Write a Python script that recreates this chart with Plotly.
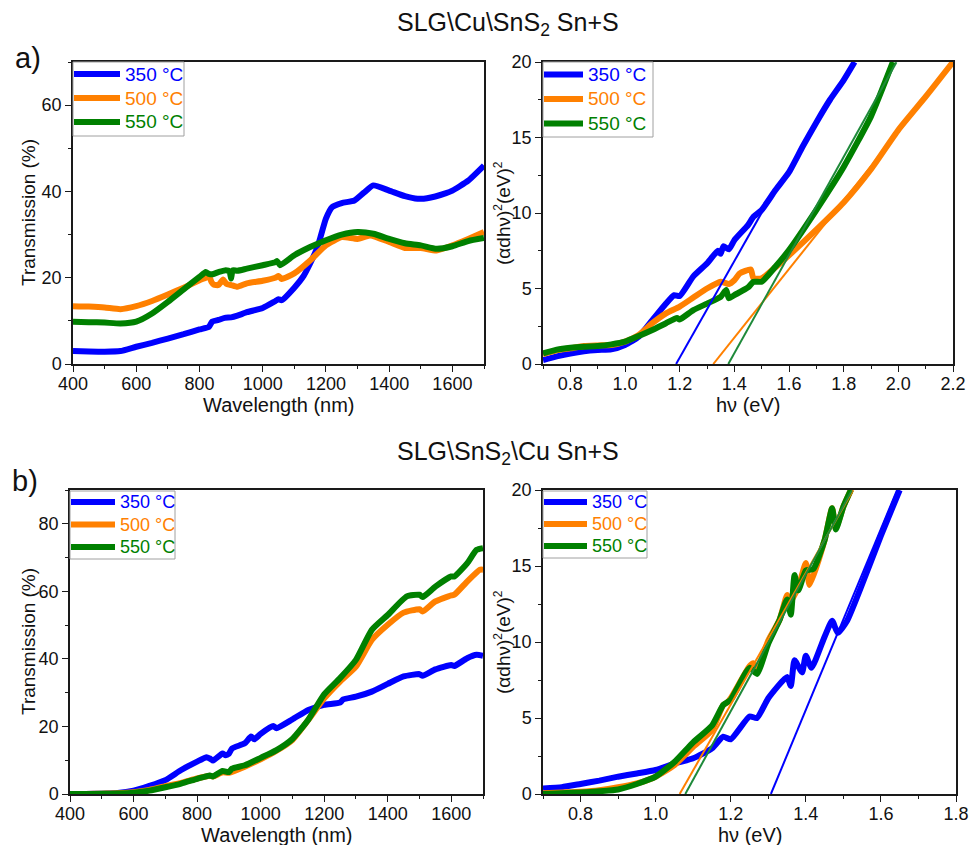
import plotly.graph_objects as go

# ---------------- data ----------------
# a) SLG\Cu\SnS2 : transmission spectra
wl_a_350 = [400, 450, 500, 550, 600, 650, 700, 750, 800, 830, 840, 860, 880, 900, 920, 950, 1000, 1040, 1050, 1060,
            1100, 1130, 1150, 1170, 1180, 1200, 1220, 1250, 1290, 1320, 1350, 1400, 1450, 1490, 1520, 1580, 1600, 1650, 1700]
T_a_350 = [3.0, 2.9, 2.85, 3.0, 4.0, 4.9, 5.9, 6.9, 8.0, 8.6, 9.8, 10.2, 10.7, 10.8, 11.2, 12.0, 13.0, 14.6, 15.0, 14.8,
           17.7, 20.5, 23.3, 26.5, 28.7, 33.7, 36.4, 37.3, 37.9, 39.7, 41.4, 40.2, 38.9, 38.3, 38.4, 39.6, 40.2, 42.5, 46.0]

wl_a_500 = [400, 450, 500, 550, 600, 650, 700, 750, 800, 820, 830, 838, 845, 860, 875, 885, 900, 920, 950, 1000,
            1040, 1050, 1060, 1100, 1150, 1200, 1250, 1300, 1340, 1400, 1450, 1500, 1550, 1600, 1650, 1700]
T_a_500 = [13.4, 13.3, 13.1, 12.7, 13.4, 14.6, 16.1, 17.7, 19.4, 20.0, 20.4, 19.0, 18.4, 18.3, 19.6, 18.6, 18.3, 17.9,
           18.7, 19.3, 20.0, 20.4, 19.7, 21.0, 24.0, 27.5, 29.4, 29.0, 29.8, 28.3, 26.9, 26.9, 26.3, 27.5, 29.0, 30.6]

wl_a_550 = [400, 450, 500, 550, 600, 650, 700, 750, 800, 820, 830, 840, 860, 880, 895, 900, 905, 920, 950, 1000,
            1040, 1045, 1055, 1100, 1150, 1200, 1250, 1300, 1350, 1400, 1450, 1500, 1550, 1600, 1650, 1700]
T_a_550 = [9.8, 9.7, 9.6, 9.4, 9.8, 11.7, 14.4, 17.3, 20.2, 21.3, 20.9, 20.8, 21.3, 21.7, 21.5, 19.8, 21.7, 21.6,
           22.1, 22.9, 23.6, 23.9, 22.9, 25.2, 27.1, 28.7, 30.0, 30.6, 30.2, 29.0, 28.0, 27.5, 26.7, 27.3, 28.5, 29.2]

# a) Tauc plots
E_a_350 = [0.70, 0.75, 0.80, 0.85, 0.90, 0.95, 1.00, 1.05, 1.10, 1.15, 1.18, 1.20, 1.25, 1.30, 1.34, 1.35, 1.36,
           1.38, 1.40, 1.45, 1.47, 1.50, 1.55, 1.60, 1.65, 1.70, 1.75, 1.80, 1.84]
A_a_350 = [0.26, 0.5, 0.7, 0.85, 0.93, 0.97, 1.26, 1.8, 2.9, 4.0, 4.56, 4.5, 5.8, 6.66, 7.5, 7.3, 7.8,
           7.6, 8.2, 9.2, 9.75, 10.2, 11.5, 12.7, 14.4, 16.0, 17.5, 18.8, 20.0]

E_a_500 = [0.70, 0.75, 0.80, 0.85, 0.90, 0.95, 1.00, 1.05, 1.10, 1.15, 1.20, 1.25, 1.30, 1.35, 1.38, 1.40, 1.42,
           1.46, 1.47, 1.50, 1.55, 1.60, 1.70, 1.80, 1.90, 2.00, 2.10, 2.20]
A_a_500 = [0.65, 0.9, 1.04, 1.19, 1.23, 1.26, 1.48, 1.92, 2.7, 3.35, 3.8, 4.4, 5.0, 5.45, 5.3, 5.55, 6.0,
           6.26, 5.67, 5.67, 6.4, 7.2, 8.9, 10.7, 12.9, 15.5, 17.7, 20.0]

E_a_550 = [0.70, 0.75, 0.80, 0.85, 0.90, 0.95, 1.00, 1.05, 1.10, 1.15, 1.19, 1.20, 1.25, 1.30, 1.35, 1.37, 1.38,
           1.40, 1.45, 1.47, 1.50, 1.55, 1.60, 1.70, 1.80, 1.90, 1.98]
A_a_550 = [0.7, 0.95, 1.08, 1.15, 1.19, 1.3, 1.48, 1.85, 2.25, 2.7, 3.05, 2.95, 3.57, 4.0, 4.45, 4.9, 4.35,
           4.56, 5.07, 5.45, 5.45, 6.44, 7.54, 10.2, 13.05, 16.4, 20.0]

# linear band-gap fits: (Eg, slope, last energy)
fit_a = {"350": (1.187, 32.0, 1.53), "500": (1.323, 22.7, 2.20), "550": (1.378, 32.5, 1.993)}

# b) SLG\SnS2\Cu : transmission spectra
wl_b_350 = [400, 450, 500, 550, 600, 650, 700, 750, 800, 830, 840, 850, 880, 890, 900, 910, 950, 970, 980, 1000,
            1040, 1050, 1100, 1150, 1200, 1250, 1260, 1300, 1350, 1400, 1450, 1500, 1510, 1550, 1600, 1610, 1650, 1680, 1700]
T_b_350 = [0, 0, 0.1, 0.3, 1.0, 2.4, 4.1, 7.1, 9.6, 10.9, 10.5, 9.9, 12.0, 11.5, 11.9, 13.5, 15.0, 17.0, 16.2, 17.8,
           20.1, 19.5, 22.1, 24.9, 26.4, 27.1, 28.0, 28.8, 30.3, 32.6, 34.8, 35.5, 35.0, 36.9, 38.2, 37.9, 40.2, 41.2, 40.9]

wl_b_500 = [400, 450, 500, 550, 600, 650, 700, 750, 800, 840, 850, 880, 900, 950, 1000, 1050, 1100, 1150, 1200,
            1250, 1300, 1350, 1400, 1450, 1500, 1510, 1550, 1600, 1610, 1650, 1690, 1700]
T_b_500 = [0, 0, 0.1, 0.2, 0.5, 1.2, 2.3, 3.3, 4.6, 5.4, 5.2, 6.4, 6.3, 8.1, 10.3, 12.8, 16.0, 21.9, 28.3,
           33.3, 37.7, 45.6, 50.1, 53.7, 54.7, 54.0, 57.0, 58.8, 59.0, 62.9, 66.4, 66.4]

wl_b_550 = [400, 450, 500, 550, 600, 650, 700, 750, 800, 840, 850, 880, 900, 910, 950, 1000, 1050, 1100, 1150,
            1200, 1250, 1300, 1350, 1400, 1460, 1500, 1510, 1550, 1600, 1610, 1650, 1680, 1700]
T_b_550 = [0, 0, 0.05, 0.15, 0.4, 1.0, 2.0, 3.1, 4.5, 5.5, 5.2, 6.8, 6.5, 7.5, 8.5, 10.7, 13.0, 16.3, 22.0,
           29.5, 34.3, 39.7, 48.6, 53.0, 58.5, 59.0, 58.3, 61.4, 64.4, 64.4, 68.3, 72.3, 72.8]

# b) Tauc plots
E_b_350 = [0.70, 0.75, 0.80, 0.85, 0.90, 0.95, 1.00, 1.05, 1.10, 1.15, 1.18, 1.20, 1.25, 1.27, 1.30, 1.35, 1.36,
           1.37, 1.39, 1.40, 1.415, 1.45, 1.47, 1.485, 1.51, 1.55, 1.60, 1.65]
A_b_350 = [0.37, 0.45, 0.66, 0.88, 1.14, 1.35, 1.58, 2.0, 2.35, 3.0, 3.77, 3.6, 5.1, 5.0, 6.3, 7.7, 7.1,
           8.8, 8.0, 9.1, 8.3, 10.35, 11.4, 10.6, 11.4, 13.8, 17.0, 20.0]

E_b_500 = [0.70, 0.75, 0.80, 0.85, 0.90, 0.95, 1.00, 1.05, 1.10, 1.15, 1.18, 1.19, 1.20, 1.25, 1.26, 1.27, 1.30,
           1.33, 1.35, 1.355, 1.38, 1.40, 1.41, 1.45, 1.47, 1.48, 1.50, 1.52]
A_b_500 = [0.05, 0.1, 0.15, 0.25, 0.44, 0.7, 1.14, 1.9, 3.1, 4.2, 5.85, 6.0, 6.3, 8.4, 8.6, 8.2, 10.1,
           11.45, 13.1, 12.5, 13.6, 15.2, 13.75, 16.7, 18.8, 17.5, 18.9, 20.0]

E_b_550 = [0.70, 0.75, 0.80, 0.85, 0.90, 0.95, 1.00, 1.05, 1.10, 1.15, 1.18, 1.20, 1.25, 1.27, 1.30, 1.33, 1.35,
           1.36, 1.37, 1.38, 1.40, 1.42, 1.45, 1.47, 1.48, 1.50, 1.52]
A_b_550 = [0, 0.05, 0.1, 0.18, 0.3, 0.66, 1.14, 2.1, 3.4, 4.5, 5.85, 6.2, 8.3, 7.9, 9.9, 11.45, 12.8,
           11.8, 14.4, 13.4, 14.7, 14.8, 16.7, 18.8, 17.4, 18.9, 20.0]

fit_b = {"350": (1.307, 59.5, 1.643), "500": (1.064, 43.3, 1.526), "550": (1.079, 45.0, 1.523)}

temps = ["350", "500", "550"]
legend_labels = ["350 °C", "500 °C", "550 °C"]
colors = {"350": "#0000FF", "500": "#FF8000", "550": "#008000"}
fit_colors = {"350": "#0000FF", "500": "#FF8000", "550": "#1E8A3A"}

wl_ticks = [400, 600, 800, 1000, 1200, 1400, 1600]
title_wl = "Wavelength (nm)"
title_T = "Transmission (%)"
title_E = "hν (eV)"
title_tauc = ("(αdhν)<sup><span style='font-size:12px'>2</span></sup>"
              "(eV)<sup><span style='font-size:12px'>2</span></sup>")

# ---------------- layout geometry (pixels) ----------------
W, H = 971, 845
FONT = "Liberation Sans, Arial, sans-serif"


def px_x(v):
    return v / W


def px_y(v):
    return 1 - v / H


panels = {
    "a_l": dict(x=(73, 484), y=(62, 364)),
    "a_r": dict(x=(543, 953), y=(62, 364)),
    "b_l": dict(x=(70, 483), y=(490, 794)),
    "b_r": dict(x=(543, 956), y=(490, 794)),
}

# in-plot legend boxes: left, top, right, bottom, sample length, first row, row step, font size
legend_boxes = {
    "a_l": (73, 62, 184, 136, 47, 74, 24, 19),
    "a_r": (543, 62, 653, 137, 40, 74.5, 24.5, 19),
    "b_l": (70, 491, 175, 559, 45, 502, 22.5, 18),
    "b_r": (543, 491, 647, 558, 44, 502, 22, 18),
}

fig = go.Figure()


def add_curves(xs, ys, xa, ya):
    for t, lab, x, y in zip(temps, legend_labels, xs, ys):
        fig.add_trace(go.Scatter(x=x, y=y, mode="lines", name=lab,
                                 line=dict(color=colors[t], width=6, shape="spline", smoothing=0.5),
                                 xaxis=xa, yaxis=ya, showlegend=False))


def add_fits(fits, xa, ya):
    for t in temps:
        eg, slope, e_end = fits[t]
        fig.add_trace(go.Scatter(x=[eg, e_end], y=[0, slope * (e_end - eg)], mode="lines",
                                 line=dict(color=fit_colors[t], width=2), showlegend=False,
                                 xaxis=xa, yaxis=ya))


add_curves([wl_a_350, wl_a_500, wl_a_550], [T_a_350, T_a_500, T_a_550], "x", "y")
add_curves([E_a_350, E_a_500, E_a_550], [A_a_350, A_a_500, A_a_550], "x2", "y2")
add_fits(fit_a, "x2", "y2")
add_curves([wl_b_350, wl_b_500, wl_b_550], [T_b_350, T_b_500, T_b_550], "x3", "y3")
add_curves([E_b_350, E_b_500, E_b_550], [A_b_350, A_b_500, A_b_550], "x4", "y4")
add_fits(fit_b, "x4", "y4")

AX_COL = "#1a1a1a"


def axis_style(rng, minor_dtick, tickvals, fmt=None):
    d = dict(range=rng, showgrid=False, zeroline=False, showline=True, linecolor=AX_COL, linewidth=1.5,
             mirror=True, ticks="outside", ticklen=6, tickwidth=1.3, tickcolor=AX_COL,
             tickvals=tickvals, automargin=False,
             tickfont=dict(size=18, family=FONT, color="#111"),
             minor=dict(dtick=minor_dtick, tick0=0, ticks="outside", ticklen=3.5, tickwidth=1.3, tickcolor=AX_COL))
    if fmt:
        d["tickformat"] = fmt
    return d


# (panel, x-axis spec, y-axis spec, x title, y title, x-title centre y, y-title centre x)
specs = [
    ("a_l", dict(rng=[400, 1700], minor_dtick=100, tickvals=wl_ticks),
     dict(rng=[0, 70], minor_dtick=10, tickvals=[0, 20, 40, 60]), title_wl, title_T, 405, 28),
    ("a_r", dict(rng=[0.7, 2.2], minor_dtick=0.1, tickvals=[0.8, 1.0, 1.2, 1.4, 1.6, 1.8, 2.0, 2.2], fmt=".1f"),
     dict(rng=[0, 20], minor_dtick=2.5, tickvals=[0, 5, 10, 15, 20]), title_E, title_tauc, 405, 502),
    ("b_l", dict(rng=[400, 1700], minor_dtick=100, tickvals=wl_ticks),
     dict(rng=[0, 90], minor_dtick=10, tickvals=[0, 20, 40, 60, 80]), title_wl, title_T, 835, 28),
    ("b_r", dict(rng=[0.7, 1.8], minor_dtick=0.1, tickvals=[0.8, 1.0, 1.2, 1.4, 1.6, 1.8], fmt=".1f"),
     dict(rng=[0, 20], minor_dtick=2.5, tickvals=[0, 5, 10, 15, 20]), title_E, title_tauc, 835, 502),
]

layout_axes = {}
annotations = []
for i, (key, xs, ys, xt, yt, xt_y, yt_x) in enumerate(specs):
    p = panels[key]
    suffix = "" if i == 0 else str(i + 1)
    xa = axis_style(**xs)
    ya = axis_style(**ys)
    xa.update(domain=[px_x(p["x"][0]), px_x(p["x"][1])], anchor="y" + suffix, ticklabelstandoff=-3)
    ya.update(domain=[px_y(p["y"][1]), px_y(p["y"][0])], anchor="x" + suffix)
    layout_axes["xaxis" + suffix] = xa
    layout_axes["yaxis" + suffix] = ya
    # axis titles
    annotations.append(dict(text=xt, x=px_x((p["x"][0] + p["x"][1]) / 2), y=px_y(xt_y),
                            xref="paper", yref="paper", xanchor="center", yanchor="middle",
                            showarrow=False, font=dict(size=20, family=FONT, color="#111")))
    annotations.append(dict(text=yt, x=px_x(yt_x), y=px_y((p["y"][0] + p["y"][1]) / 2),
                            xref="paper", yref="paper", xanchor="center", yanchor="middle",
                            textangle=-90, showarrow=False, font=dict(size=19, family=FONT, color="#111")))

# legend boxes drawn as shapes + coloured labels
shapes = []
for key, (l, t, r, b, sample, row0, step, fs) in legend_boxes.items():
    shapes.append(dict(type="rect", xref="paper", yref="paper",
                       x0=px_x(l), x1=px_x(r), y0=px_y(b), y1=px_y(t),
                       line=dict(color="#a0a0a0", width=1), fillcolor="white", layer="above"))
    for k, (tm, lab) in enumerate(zip(temps, legend_labels)):
        yy = row0 + k * step
        shapes.append(dict(type="line", xref="paper", yref="paper",
                           x0=px_x(l + 1), x1=px_x(l + sample), y0=px_y(yy), y1=px_y(yy),
                           line=dict(color=colors[tm], width=6), layer="above"))
        annotations.append(dict(text=lab, x=px_x(l + sample + 3), y=px_y(yy), xref="paper", yref="paper",
                                xanchor="left", yanchor="middle", showarrow=False,
                                font=dict(size=fs, family=FONT, color=colors[tm])))

annotations += [
    dict(text=r"SLG\Cu\SnS<sub>2</sub> Sn+S", x=px_x(508), y=px_y(24), xref="paper", yref="paper",
         xanchor="center", yanchor="middle", showarrow=False, font=dict(size=25, family=FONT, color="#111")),
    dict(text=r"SLG\SnS<sub>2</sub>\Cu Sn+S", x=px_x(508), y=px_y(453), xref="paper", yref="paper",
         xanchor="center", yanchor="middle", showarrow=False, font=dict(size=25, family=FONT, color="#111")),
    dict(text="a)", x=px_x(28), y=px_y(58), xref="paper", yref="paper",
         xanchor="center", yanchor="middle", showarrow=False, font=dict(size=29, family=FONT, color="#111")),
    dict(text="b)", x=px_x(25), y=px_y(481), xref="paper", yref="paper",
         xanchor="center", yanchor="middle", showarrow=False, font=dict(size=29, family=FONT, color="#111")),
]

fig.update_layout(width=W, height=H, margin=dict(l=0, r=0, t=0, b=0),
                  paper_bgcolor="white", plot_bgcolor="white",
                  font=dict(family=FONT, color="#111"), showlegend=False,
                  shapes=shapes, annotations=annotations, **layout_axes)

fig.write_html("out.html")
